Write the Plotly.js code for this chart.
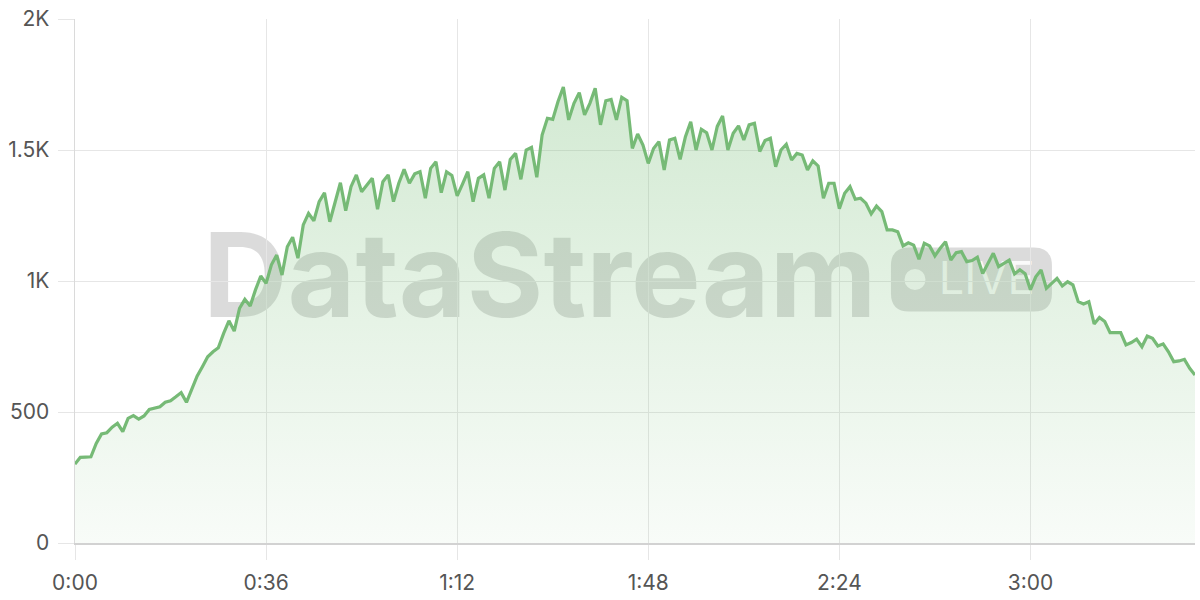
<!DOCTYPE html>
<html>
<head>
<meta charset="utf-8">
<script src="https://cdn.plot.ly/plotly-3.0.1.min.js"></script>
<style>html,body{margin:0;padding:0;background:#fff}#chart{width:1200px;height:600px}</style>
</head>
<body>
<div id="chart"></div>
<script>
// minutes since start (one sample per minute)
const viewers = [
301,327,328,329,380,416,421,442,457,425,476,486,473,485,510,515,520,537,543,558,
574,537,590,637,673,711,730,745,800,848,809,896,930,905,966,1019,991,1062,1099,1023,
1131,1167,1087,1214,1258,1230,1303,1337,1226,1303,1375,1268,1360,1405,1341,1366,1392,1274,1379,1405,
1303,1373,1426,1373,1409,1417,1316,1430,1455,1337,1417,1403,1325,1370,1417,1303,1392,1405,1316,1430,
1455,1347,1464,1487,1388,1500,1510,1396,1557,1621,1617,1685,1740,1615,1678,1719,1634,1678,1736,1596,
1688,1693,1615,1701,1688,1506,1561,1519,1449,1506,1532,1424,1538,1545,1464,1551,1608,1500,1579,1566,
1500,1590,1630,1500,1564,1592,1538,1596,1602,1494,1536,1545,1436,1500,1522,1462,1487,1481,1424,1459,
1439,1316,1373,1373,1276,1335,1360,1312,1316,1297,1256,1286,1265,1195,1195,1188,1134,1146,1137,1083,
1144,1134,1096,1125,1150,1080,1108,1112,1074,1078,1091,1029,1068,1106,1055,1068,1080,1027,1043,1028,
967,1016,1042,972,991,1010,981,997,985,921,912,921,836,861,845,803,803,803,756,765,
778,749,790,781,752,760,730,692,695,701,667,641
];
const minutes = viewers.map((_, i) => i);
const xTickVals = [0, 36, 72, 108, 144, 180];
const xTickText = ["0:00", "0:36", "1:12", "1:48", "2:24", "3:00"];
const yTickVals = [0, 500, 1000, 1500, 2000];
const yTickText = ["0", "500", "1K", "1.5K", "2K"];

const trace = {
  x: minutes, y: viewers, type: 'scatter', mode: 'lines',
  line: {color: '#76ba76', width: 3.2, shape: 'linear'},
  fill: 'tozeroy',
  fillgradient: {type: 'vertical', start: 0, stop: 1750,
    colorscale: [[0, 'rgba(120,190,120,0.05)'], [1, 'rgba(120,190,120,0.33)']]},
  hoverinfo: 'skip'
};

const badgePath = 'M -62.5,-32 L 62.5,-32 Q 80.5,-32 80.5,-14 L 80.5,14 Q 80.5,32 62.5,32 L -62.5,32 Q -80.5,32 -80.5,14 L -80.5,-14 Q -80.5,-32 -62.5,-32 Z';

const layout = {
  width: 1200, height: 600,
  margin: {l: 75, r: 5, t: 19, b: 57},
  paper_bgcolor: '#ffffff', plot_bgcolor: '#ffffff',
  showlegend: false,
  font: {family: 'Inter, "Noto Sans", sans-serif', size: 21, color: '#555555'},
  xaxis: {
    range: [0, 211], tickvals: xTickVals, ticktext: xTickText,
    showgrid: true, gridcolor: '#e6e6e6', gridwidth: 1,
    ticks: 'outside', ticklen: 15, tickcolor: '#e6e6e6', tickwidth: 1,
    showline: true, linecolor: '#d2d2d2', linewidth: 1.5,
    zeroline: false, fixedrange: true, ticklabelstandoff: 5
  },
  yaxis: {
    range: [0, 2000], tickvals: yTickVals, ticktext: yTickText,
    showgrid: true, gridcolor: '#e6e6e6', gridwidth: 1,
    ticks: 'outside', ticklen: 16, tickcolor: '#e6e6e6', tickwidth: 1,
    showline: true, linecolor: '#dadada', linewidth: 1.5,
    zeroline: false, fixedrange: true, ticklabelstandoff: 4
  },
  shapes: [
    {type: 'rect', layer: 'between', xref: 'paper', yref: 'paper',
     x0: 0.05, x1: 0.78, y0: 0.40, y1: 0.64,
     fillcolor: 'rgba(0,0,0,0)', line: {width: 0},
     label: {text: 'DataStream', textposition: 'middle center',
       font: {family: 'Inter, "Noto Sans", sans-serif', size: 117, weight: 700, color: 'rgba(0,0,0,0.14)'}}},
    {type: 'path', layer: 'between', xref: 'paper', yref: 'paper',
     xsizemode: 'pixel', ysizemode: 'pixel', xanchor: 0.8004, yanchor: 0.5029,
     path: badgePath, fillcolor: 'rgba(0,0,0,0.14)', line: {width: 0}},
    {type: 'circle', layer: 'between', xref: 'paper', yref: 'paper',
     xsizemode: 'pixel', ysizemode: 'pixel', xanchor: 0.7500, yanchor: 0.5029,
     x0: -10.5, x1: 10.5, y0: -10.5, y1: 10.5,
     fillcolor: 'rgba(255,255,255,0.85)', line: {width: 0}},
    {type: 'rect', layer: 'between', xref: 'paper', yref: 'paper',
     x0: 0.764, x1: 0.864, y0: 0.448, y1: 0.568,
     fillcolor: 'rgba(0,0,0,0)', line: {width: 0},
     label: {text: 'LIVE', textposition: 'middle center',
       font: {family: 'Inter, "Noto Sans", sans-serif', size: 45, weight: 400, color: 'rgba(255,255,255,0.88)'}}}
  ]
};

Plotly.newPlot('chart', [trace], layout, {displayModeBar: false, staticPlot: true});
</script>
</body>
</html>
